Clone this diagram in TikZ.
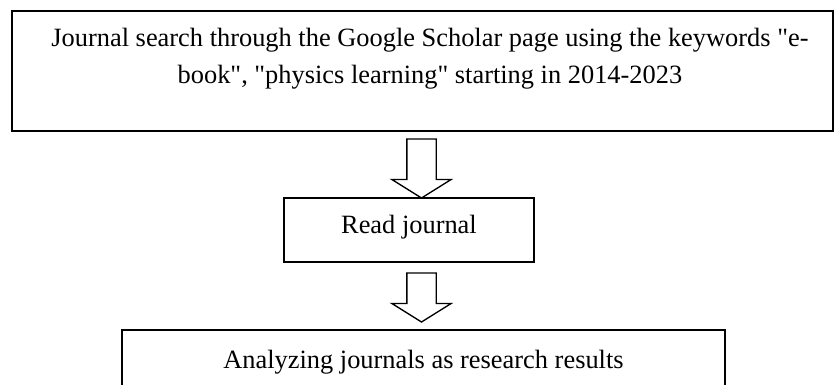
\documentclass[tikz,border=0pt]{standalone}
\usepackage{fontspec}
\setmainfont[Ligatures=TeXOff]{Liberation Serif}
\usetikzlibrary{shapes.arrows,positioning}

\begin{document}
\begin{tikzpicture}[
  x=0.75pt, y=-0.75pt,
  box/.style={rectangle, draw, line width=1.2pt, outer sep=0pt, inner sep=0pt, minimum width=187.5pt, minimum height=48pt, text height=13.5pt, text depth=9pt, align=center, font=\fontsize{19.8pt}{27.75pt}\selectfont},
  txt/.style={inner sep=0pt, outer sep=0pt, align=center, font=\fontsize{19.8pt}{27.75pt}\selectfont},
  downarrow/.style={single arrow, draw, line width=1pt, outer sep=0pt, inner sep=10.5pt, shape border rotate=270, minimum width=43.5pt, single arrow head extend=11.25pt, single arrow head indent=0pt, single arrow tip angle=116}
]
  \useasboundingbox (0,0) rectangle (835,385);
  \node[box, minimum width=615.75pt, minimum height=90pt] (search) at (422.5,71) {};
  \node[txt, below=12.75pt of search.north, xshift=5.6pt] (searchtext) {Journal search through the Google Scholar page using the keywords "e-\\book", "physics learning" starting in 2014-2023};
  \node[downarrow, minimum height=44.25pt, below=6pt of search, xshift=-0.75pt, anchor=tail] (arr1) {};
  \node[box, below=0pt of arr1.tip, xshift=-9.4pt] (read) {Read journal};
  \node[downarrow, minimum height=36.75pt, below=8.25pt of read, xshift=9.4pt, anchor=tail] (arr2) {};
  \node[box, minimum width=452.25pt, minimum height=52.5pt, below=6pt of arr2.tip, xshift=1.5pt] (analyze) {Analyzing journals as research results};
\end{tikzpicture}
\end{document}
